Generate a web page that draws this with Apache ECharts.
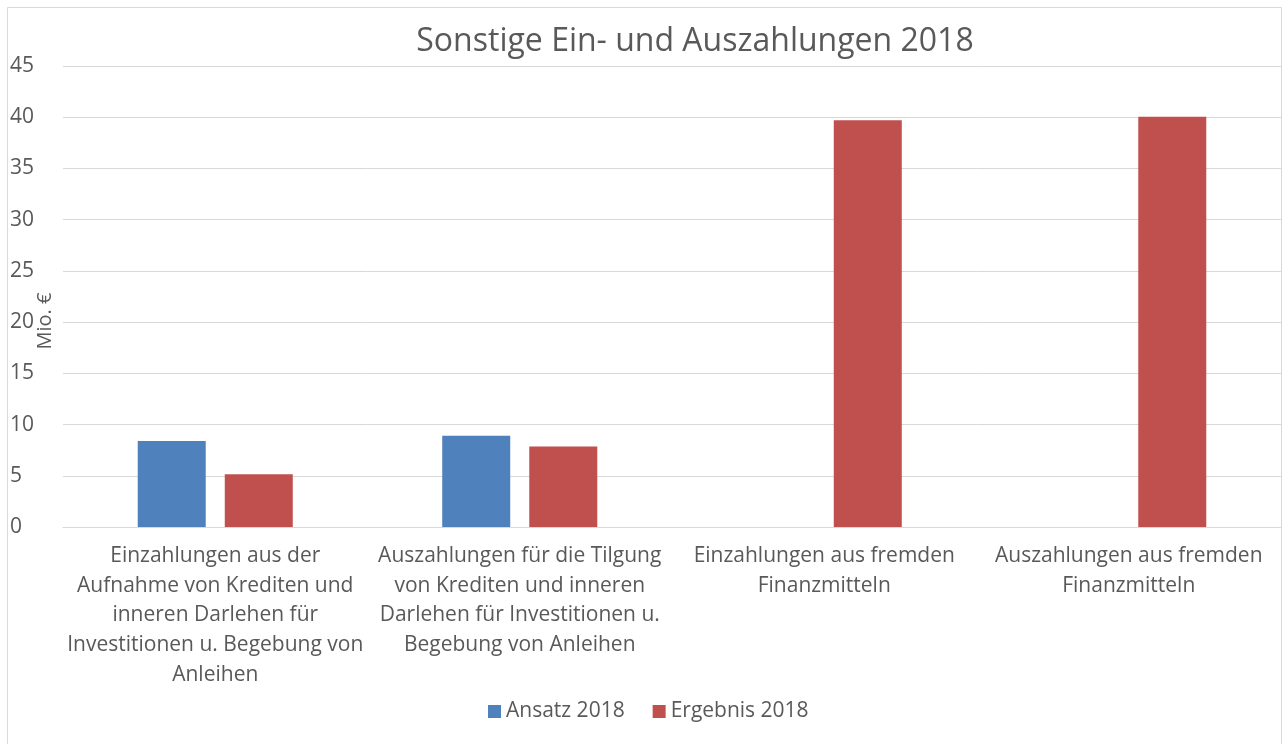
<!DOCTYPE html>
<html>
<head>
<meta charset="utf-8">
<script src="https://cdn.jsdelivr.net/npm/echarts@6/dist/echarts.min.js"></script>
<style>
html,body{margin:0;padding:0;background:#fff;}
#chart{width:1285px;height:744px;}
</style>
</head>
<body>
<div id="chart"></div>
<script>
var titleText = 'Sonstige Ein- und Auszahlungen 2018';
var yAxisTitle = 'Mio. €';
var categories = [
  'Einzahlungen aus der\nAufnahme von Krediten und\ninneren Darlehen für\nInvestitionen u. Begebung von\nAnleihen',
  'Auszahlungen für die Tilgung\nvon Krediten und inneren\nDarlehen für Investitionen u.\nBegebung von Anleihen',
  'Einzahlungen aus fremden\nFinanzmitteln',
  'Auszahlungen aus fremden\nFinanzmitteln'
];
var seriesNames = ['Ansatz 2018', 'Ergebnis 2018'];
var ansatz = [8.4, 8.9, null, null];
var ergebnis = [5.15, 7.85, 39.7, 40.05];
var yMin = 0, yMax = 45, yInterval = 5;

var FONT = '"Open Sans", Lato, sans-serif';
var TXT = '#595959';
var chart = echarts.init(document.getElementById('chart'), null, {renderer: 'canvas'});
chart.setOption({
  animation: false,
  backgroundColor: '#fff',
  textStyle: {fontFamily: FONT, color: TXT},
  title: {
    text: titleText,
    left: 690, top: 21, textAlign: 'center',
    textStyle: {fontFamily: FONT, fontSize: 32, fontWeight: 'normal', color: TXT}
  },
  graphic: [
    {type: 'rect', shape: {x: 7.5, y: 7.5, width: 1274, height: 760},
     style: {fill: 'none', stroke: '#d9d9d9', lineWidth: 1}, silent: true},
    {type: 'text', x: 45, y: 321, rotation: Math.PI / 2,
     style: {text: yAxisTitle, fontFamily: FONT, fontSize: 20, fill: TXT,
             align: 'center', verticalAlign: 'middle'}}
  ],
  legend: {
    data: seriesNames,
    bottom: 17, left: 483,
    itemWidth: 13, itemHeight: 13, itemGap: 28,
    icon: 'rect',
    textStyle: {fontFamily: FONT, fontSize: 21, color: TXT}
  },
  grid: {left: 63, right: 4, top: 66, bottom: 217, containLabel: false},
  xAxis: {
    type: 'category',
    data: categories,
    axisLine: {lineStyle: {color: '#d9d9d9', width: 1}},
    axisTick: {show: false},
    axisLabel: {interval: 0, margin: 14, fontFamily: FONT, fontSize: 21, color: TXT,
                lineHeight: 29.7, align: 'center'}
  },
  yAxis: {
    type: 'value',
    min: yMin, max: yMax, interval: yInterval,
    axisLine: {show: false},
    axisTick: {show: false},
    splitLine: {lineStyle: {color: '#d9d9d9', width: 1}},
    axisLabel: {align: 'left', margin: 53, fontFamily: FONT, fontSize: 21, color: TXT}
  },
  series: [
    {name: seriesNames[0], type: 'bar', data: ansatz, itemStyle: {color: '#4f81bd'},
     barWidth: 68, barGap: '28%'},
    {name: seriesNames[1], type: 'bar', data: ergebnis, itemStyle: {color: '#c0504d'},
     barWidth: 68, barGap: '28%'}
  ]
});
</script>
</body>
</html>
